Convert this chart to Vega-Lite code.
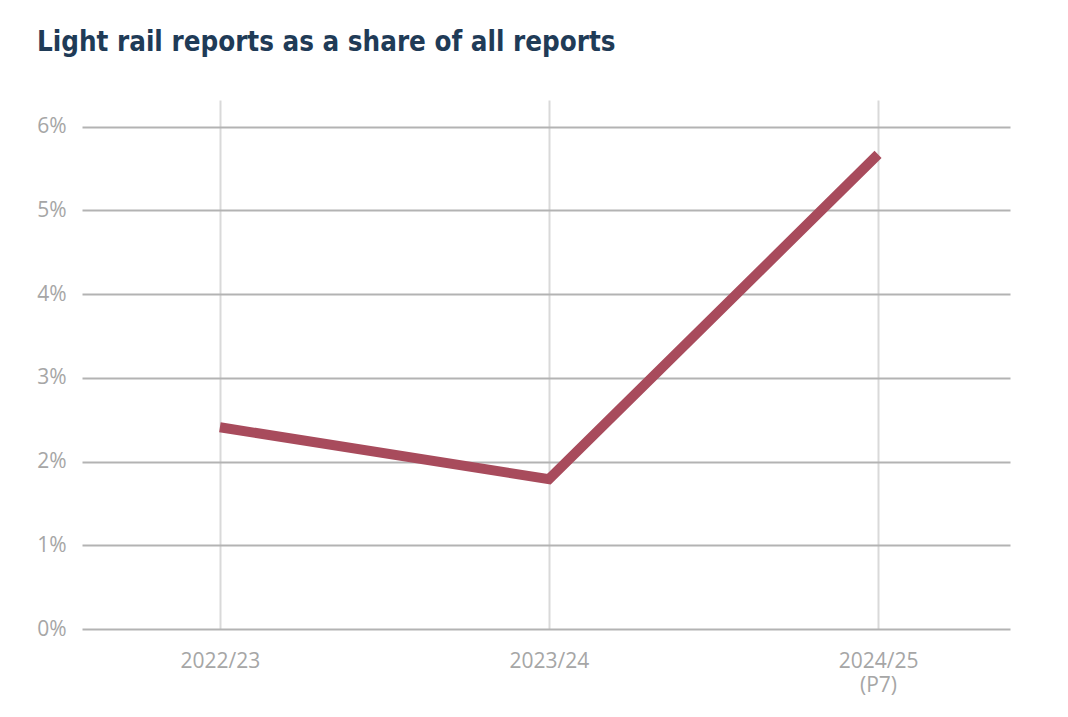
{
  "$schema": "https://vega.github.io/schema/vega-lite/v6.json",
  "autosize": {"type": "none"},
  "width": 928,
  "height": 529,
  "padding": {"left": 82, "top": 100, "right": 58, "bottom": 88},
  "background": "white",
  "title": {
    "text": "Light rail reports as a share of all reports",
    "anchor": "start",
    "frame": "group",
    "dx": -45,
    "offset": 44,
    "font": "DejaVu Sans Condensed",
    "fontSize": 27.5,
    "fontWeight": "bold",
    "color": "#1f3b57"
  },
  "data": {
    "values": [
      {"year": "2022/23", "share": 0.0241},
      {"year": "2023/24", "share": 0.0179},
      {"year": "2024/25 (P7)", "share": 0.0567}
    ]
  },
  "config": {"view": {"stroke": null}},
  "mark": {"type": "line", "color": "#a84b5c", "strokeWidth": 10, "strokeCap": "butt", "strokeJoin": "miter"},
  "encoding": {
    "x": {
      "field": "year",
      "type": "ordinal",
      "sort": null,
      "scale": {"type": "point", "padding": 0.41, "align": 0.511},
      "axis": {
        "title": null,
        "labelAngle": 0,
        "domain": false,
        "ticks": false,
        "grid": true,
        "gridColor": "#d9d9d9",
        "gridWidth": 2,
        "labelFont": "Open Sans",
        "labelFontSize": 21,
        "labelColor": "#a6a6a6",
        "labelPadding": 21,
        "labelLineHeight": 24,
        "labelExpr": "split(datum.label, ' ')"
      }
    },
    "y": {
      "field": "share",
      "type": "quantitative",
      "scale": {"domain": [0, 0.0632], "nice": false, "zero": true},
      "axis": {
        "title": null,
        "values": [0, 0.01, 0.02, 0.03, 0.04, 0.05, 0.06],
        "format": ".0%",
        "domain": false,
        "ticks": false,
        "grid": true,
        "gridColor": "#b3b3b3",
        "gridWidth": 2,
        "labelFont": "Open Sans",
        "labelFontSize": 21,
        "labelColor": "#a6a6a6",
        "labelPadding": 16
      }
    }
  }
}
